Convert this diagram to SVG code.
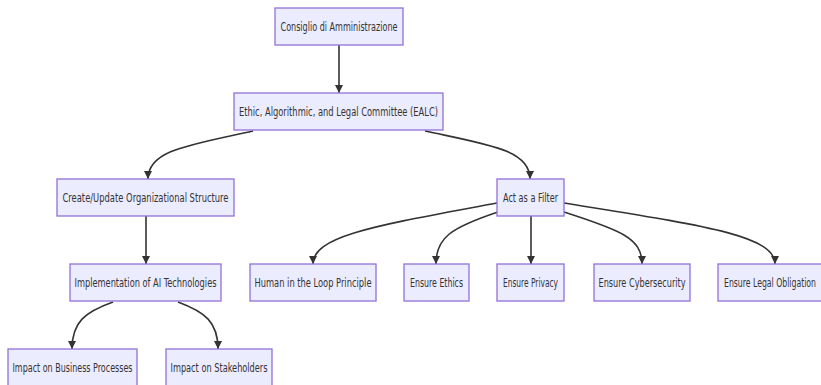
<svg xmlns="http://www.w3.org/2000/svg" width="821" height="385" viewBox="0 0 821 385">
<defs>
<marker id="arr" viewBox="0 0 10 10" refX="10" refY="5" markerWidth="8" markerHeight="8" markerUnits="userSpaceOnUse" orient="auto">
<path d="M0,0 L10,5 L0,10 z" fill="#333"/>
</marker>
<style>
.n rect{fill:#ECECFF;stroke:#9370DB;stroke-width:1.3}
.n text{font-family:"DejaVu Sans Condensed","DejaVu Sans","Liberation Sans",sans-serif;font-stretch:condensed;font-size:12px;fill:#333;text-anchor:middle;dominant-baseline:central}
.e path{fill:none;stroke:#333;stroke-width:1.6;marker-end:url(#arr)}
</style>
</defs>
<rect width="821" height="385" fill="#fff"/>
<g class="e" id="edges">
<path d="M339,45 L339,93"/>
<path d="M253,131 C190,145 148,150 148,179"/>
<path d="M425,131 C490,145 530,150 530,179"/>
<path d="M146,216 L146,264"/>
<path d="M497,203 C380,225 313,235 313,264"/>
<path d="M498,212 C450,228 436,238 436,264"/>
<path d="M531,216 L531,264"/>
<path d="M564,212 C620,230 642,238 642,264"/>
<path d="M564,203 C700,225 775,235 775,264"/>
<path d="M113,302 C85,312 72,322 72,349"/>
<path d="M178,302 C205,312 218,322 218,349"/>
</g>
<g class="n" id="consiglio"><rect x="275" y="8" width="128" height="37"/><text x="339" y="27" textLength="117" lengthAdjust="spacingAndGlyphs">Consiglio di Amministrazione</text></g>
<g class="n" id="ealc"><rect x="234" y="93" width="209" height="37"/><text x="338.5" y="111.5" textLength="199" lengthAdjust="spacingAndGlyphs">Ethic, Algorithmic, and Legal Committee (EALC)</text></g>
<g class="n" id="create"><rect x="57" y="179" width="177" height="37"/><text x="145.5" y="197.5" textLength="166" lengthAdjust="spacingAndGlyphs">Create/Update Organizational Structure</text></g>
<g class="n" id="filter"><rect x="497" y="179" width="67" height="37"/><text x="530.5" y="197.5" textLength="55" lengthAdjust="spacingAndGlyphs">Act as a Filter</text></g>
<g class="n" id="impl"><rect x="70" y="264" width="151" height="37"/><text x="145.5" y="282.5" textLength="142" lengthAdjust="spacingAndGlyphs">Implementation of AI Technologies</text></g>
<g class="n" id="human"><rect x="250" y="264" width="126" height="37"/><text x="313" y="282.5" textLength="117" lengthAdjust="spacingAndGlyphs">Human in the Loop Principle</text></g>
<g class="n" id="ethics"><rect x="404" y="264" width="65" height="37"/><text x="436.5" y="282.5" textLength="53" lengthAdjust="spacingAndGlyphs">Ensure Ethics</text></g>
<g class="n" id="privacy"><rect x="497" y="264" width="67" height="37"/><text x="530.5" y="282.5" textLength="55" lengthAdjust="spacingAndGlyphs">Ensure Privacy</text></g>
<g class="n" id="cyber"><rect x="594" y="264" width="96" height="37"/><text x="642" y="282.5" textLength="87" lengthAdjust="spacingAndGlyphs">Ensure Cybersecurity</text></g>
<g class="n" id="legal"><rect x="718" y="264" width="104" height="37"/><text x="770" y="282.5" textLength="92" lengthAdjust="spacingAndGlyphs">Ensure Legal Obligation</text></g>
<g class="n" id="business"><rect x="8" y="349" width="129" height="37"/><text x="72.5" y="367.5" textLength="120" lengthAdjust="spacingAndGlyphs">Impact on Business Processes</text></g>
<g class="n" id="stake"><rect x="166" y="349" width="106" height="37"/><text x="219" y="367.5" textLength="97" lengthAdjust="spacingAndGlyphs">Impact on Stakeholders</text></g>
</svg>
